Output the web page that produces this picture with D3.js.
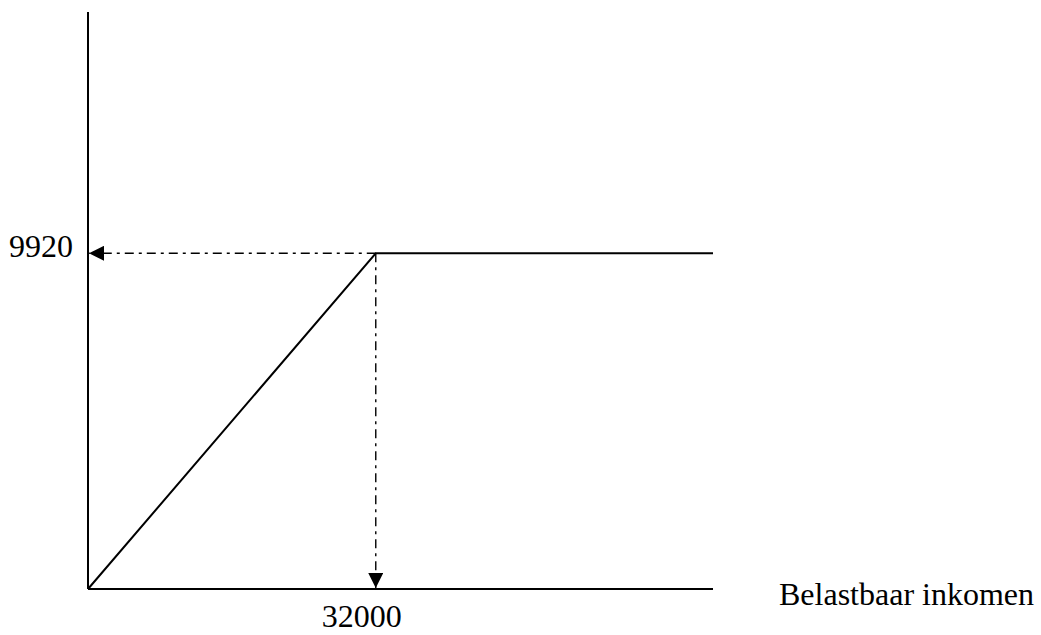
<!DOCTYPE html>
<html>
<head>
<meta charset="utf-8">
<script src="https://cdn.jsdelivr.net/npm/d3@7"></script>
<style>
  body { margin: 0; background: #fff; }
  svg { display: block; }
  text { font-family: "Liberation Serif", "Times New Roman", serif; fill: #000; }
</style>
</head>
<body>
<svg></svg>
<script>
const width = 1041,
      height = 635

// income (x) vs tax credit (y)
const incomes = [0, 32000, 69500]
const credits = [0, 9920, 9920]
const kink = {x: 32000, y: 9920}
const xTickLabels = ["32000"]
const yTickLabels = ["9920"]
const xTitle = "Belastbaar inkomen"

const xMax = 69500,
      yMax = 17050

const x = d3.scaleLinear().domain([0, xMax]).range([88, 713])
const y = d3.scaleLinear().domain([0, yMax]).range([589, 12])

const svg = d3.select("svg")
  .attr("width", width)
  .attr("height", height)

const defs = svg.append("defs")
defs.append("marker")
  .attr("id", "arrow")
  .attr("viewBox", "0 0 15 15")
  .attr("refX", 15)
  .attr("refY", 7.5)
  .attr("markerWidth", 15)
  .attr("markerHeight", 15)
  .attr("markerUnits", "userSpaceOnUse")
  .attr("orient", "auto")
  .append("path")
    .attr("d", "M0,0L15,7.5L0,15Z")
    .attr("fill", "#000")

// axes (plain lines, no ticks)
svg.append("line")
  .attr("x1", x(0)).attr("x2", x(0))
  .attr("y1", y(0)).attr("y2", y(yMax))
  .attr("stroke", "#000").attr("stroke-width", 2)

svg.append("line")
  .attr("x1", x(0)).attr("x2", x(xMax))
  .attr("y1", y(0)).attr("y2", y(0))
  .attr("stroke", "#000").attr("stroke-width", 2)

// guide lines to the axes
const dash = "9,5,3,5"
svg.append("line")
  .attr("x1", x(kink.x)).attr("y1", y(kink.y))
  .attr("x2", x(0) + 1).attr("y2", y(kink.y))
  .attr("stroke", "#000").attr("stroke-width", 1.4)
  .attr("stroke-dasharray", dash)
  .attr("marker-end", "url(#arrow)")

svg.append("line")
  .attr("x1", x(kink.x)).attr("y1", y(kink.y))
  .attr("x2", x(kink.x)).attr("y2", y(0) - 1)
  .attr("stroke", "#000").attr("stroke-width", 1.4)
  .attr("stroke-dasharray", dash)
  .attr("marker-end", "url(#arrow)")

// the curve
const line = d3.line()
  .x((d, i) => x(incomes[i]))
  .y(d => y(d))

svg.append("path")
  .datum(credits)
  .attr("d", line)
  .attr("fill", "none")
  .attr("stroke", "#000")
  .attr("stroke-width", 2)

// labels
svg.append("text")
  .attr("x", 73).attr("y", y(kink.y) + 4)
  .attr("text-anchor", "end")
  .attr("font-size", 32)
  .text(yTickLabels[0])

svg.append("text")
  .attr("x", x(kink.x) - 14).attr("y", 627)
  .attr("text-anchor", "middle")
  .attr("font-size", 32)
  .text(xTickLabels[0])

svg.append("text")
  .attr("x", 779).attr("y", 605)
  .attr("font-size", 32)
  .text(xTitle)
</script>
</body>
</html>
